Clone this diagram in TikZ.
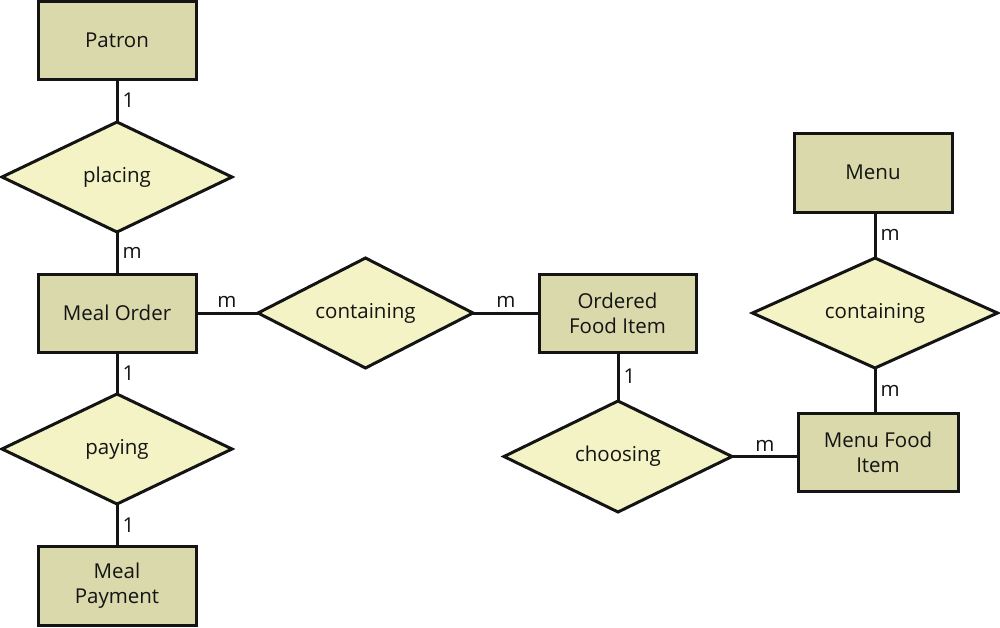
\documentclass[tikz,border=0pt]{standalone}
\usepackage{fontspec}
\setmainfont{Open Sans}
\usetikzlibrary{shapes.geometric}
\definecolor{entfill}{RGB}{217,217,172}
\definecolor{relfill}{RGB}{243,243,198}
\definecolor{ink}{RGB}{20,20,20}
\tikzset{
  entity/.style={draw=ink, fill=entfill, line width=3pt, minimum width=158pt, minimum height=78pt, inner sep=0pt, outer sep=0pt, align=center, font=\fontsize{20.5}{25}\selectfont, text=ink},
  rel/.style={draw=ink, fill=relfill, line width=3pt, diamond, shape aspect=2.2, inner sep=0pt, outer sep=0pt, font=\fontsize{20.5}{25}\selectfont, text=ink},
  conn/.style={draw=ink, line width=3pt},
  card/.style={font=\fontsize{20.5}{22}\selectfont, text=ink, inner sep=4pt}
}
\begin{document}
\begin{tikzpicture}[x=1pt,y=-1pt]
\useasboundingbox (0,0) rectangle (1000,627);
\node[entity] (patron) at (117,40) {Patron};
\node[rel, minimum width=230pt, minimum height=110pt] (placing) at (117,177) {placing};
\node[entity] (order) at (117,313) {Meal Order};
\node[rel, minimum width=230pt, minimum height=110pt] (paying) at (117,449) {paying};
\node[entity, minimum height=79pt] (payment) at (117,585.5) {Meal\\Payment};
\node[rel, minimum width=215pt, minimum height=110pt] (contain1) at (365.5,313) {containing};
\node[entity, minimum width=157pt] (ordered) at (617.5,313) {Ordered\\Food Item};
\node[rel, minimum width=228pt, minimum height=111pt] (choosing) at (618,456.5) {choosing};
\node[entity, minimum width=160pt] (menufood) at (878,452) {Menu Food\\Item};
\node[entity, minimum width=158pt, minimum height=79pt] (menu) at (873,172.5) {Menu};
\node[rel, minimum width=245pt, minimum height=110pt] (contain2) at (875,313) {containing};

\draw[conn] (patron) -- node[card, right]{1} (placing);
\draw[conn] (placing) -- node[card, right]{m} (order);
\draw[conn] (order) -- node[card, right]{1} (paying);
\draw[conn] (paying) -- node[card, right]{1} (payment);
\draw[conn] (order) -- node[card, above]{m} (contain1);
\draw[conn] (contain1) -- node[card, above]{m} (ordered);
\draw[conn] (ordered.south -| choosing.north) -- node[card, right]{1} (choosing.north);
\draw[conn] (choosing) -- node[card, above]{m} (menufood.west |- choosing.east);
\draw[conn] (contain2.north |- menu.south) -- node[card, right]{m} (contain2.north);
\draw[conn] (contain2.south) -- node[card, right]{m} (contain2.south |- menufood.north);
\end{tikzpicture}
\end{document}
